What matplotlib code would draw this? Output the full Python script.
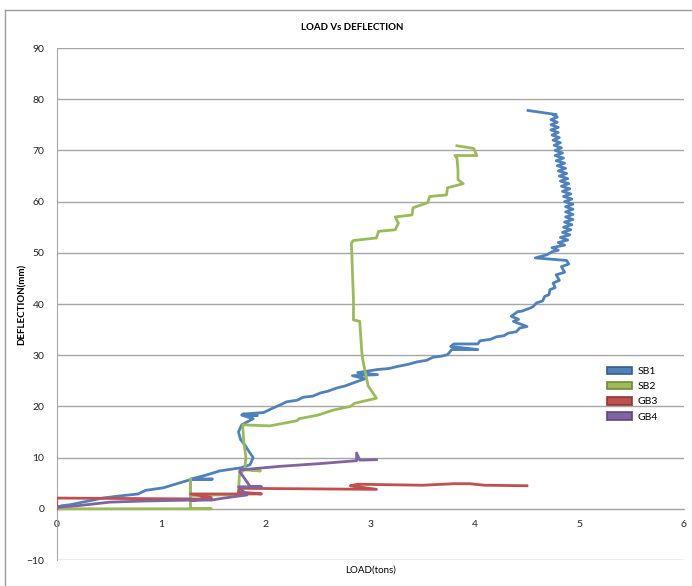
import matplotlib
matplotlib.use("Agg")

import matplotlib.pyplot as plt
from matplotlib.patches import Patch
from matplotlib.lines import Line2D

# ---------------------------------------------------------------
# data: LOAD (tons) vs DEFLECTION (mm)
# ---------------------------------------------------------------
sb1_load = [0.00, 0.05, 0.13, 0.25, 0.44, 0.60, 0.78, 0.85, 1.02, 1.15, 1.28, 1.49, 1.28,
            1.40, 1.56, 1.76, 1.85, 1.88, 1.83, 1.80, 1.76, 1.74, 1.77, 1.88, 1.77, 1.92,
            1.78, 1.98, 2.06, 2.14, 2.20, 2.30, 2.36, 2.45, 2.52, 2.60, 2.68, 2.76, 2.84,
            2.95, 2.83, 3.07, 2.88, 3.07, 3.18, 3.26, 3.36, 3.45, 3.54, 3.60, 3.68, 3.74,
            3.78, 4.03, 3.77, 3.80, 4.03, 4.05, 4.15, 4.21, 4.28, 4.32, 4.40, 4.43, 4.50,
            4.37, 4.42, 4.35, 4.41, 4.45, 4.53, 4.56, 4.59, 4.65, 4.67, 4.71, 4.72, 4.77,
            4.75, 4.81, 4.78, 4.86, 4.83, 4.90, 4.88, 4.58, 4.69, 4.74,
            4.80, 4.74, 4.86, 4.80, 4.89, 4.82, 4.91, 4.84, 4.92, 4.85, 4.93, 4.86, 4.94,
            4.87, 4.94, 4.87, 4.94, 4.87, 4.94, 4.86, 4.93, 4.85, 4.92, 4.84, 4.91, 4.83,
            4.90, 4.82, 4.89, 4.81, 4.88, 4.80, 4.87, 4.79, 4.86, 4.78, 4.85, 4.77, 4.84,
            4.77, 4.83, 4.76, 4.82, 4.75, 4.81, 4.74, 4.80, 4.73, 4.80, 4.73, 4.79, 4.73,
            4.79, 4.75, 4.78, 4.51]
sb1_defl = [0.3, 0.6, 0.8, 1.3, 2.1, 2.5, 2.9, 3.6, 4.1, 4.9, 5.7, 5.8, 5.8,
            6.4, 7.4, 8.0, 8.6, 10.0, 11.5, 12.5, 13.5, 15.0, 16.4, 17.6, 18.3, 18.2,
            18.5, 18.8, 19.6, 20.3, 20.9, 21.2, 21.8, 22.0, 22.6, 23.0, 23.6, 24.0, 24.6,
            25.4, 26.0, 26.2, 26.6, 27.2, 27.4, 27.8, 28.2, 28.7, 29.0, 29.6, 29.8, 30.1,
            31.1, 31.1, 31.7, 32.2, 32.2, 32.8, 33.1, 33.6, 33.8, 34.3, 34.6, 35.3, 35.6,
            36.6, 37.0, 37.6, 38.5, 38.6, 39.2, 39.5, 40.2, 40.6, 41.5, 41.8, 42.8, 43.2,
            44.1, 44.6, 45.7, 46.2, 47.3, 47.8, 48.5, 49.0, 49.6, 50.2,
            50.5, 51.0, 51.5, 52.0, 52.5, 53.0, 53.5, 54.0, 54.5, 55.0, 55.5, 56.0, 56.5,
            57.0, 57.5, 58.0, 58.5, 59.0, 59.5, 60.0, 60.5, 61.0, 61.5, 62.0, 62.5, 63.0,
            63.5, 64.0, 64.5, 65.0, 65.5, 66.0, 66.5, 67.0, 67.5, 68.0, 68.5, 69.0, 69.5,
            70.0, 70.5, 71.0, 71.5, 72.0, 72.5, 73.0, 73.5, 74.0, 74.5, 75.0, 75.5, 76.0,
            76.5, 77.0, 77.0, 77.8]

sb2_load = [0.00, 1.48, 1.28, 1.28, 1.28, 1.75, 1.74, 1.75, 1.80, 1.95, 1.80, 1.81, 1.79,
            1.78, 2.04, 2.30, 2.32, 2.50, 2.65, 2.81, 2.85, 3.06, 2.98, 2.93, 2.92, 2.90,
            2.84, 2.84, 2.82, 2.84, 3.06, 3.08, 3.24, 3.27, 3.24, 3.40, 3.41, 3.55, 3.57,
            3.73, 3.74, 3.89, 3.84, 3.84, 3.83, 3.81, 4.02, 3.99, 3.83]
sb2_defl = [0.0, 0.0, 0.1, 5.8, 2.6, 2.8, 3.5, 7.0, 7.6, 7.4, 7.8, 10.2, 13.0,
            16.4, 16.2, 17.2, 17.6, 18.3, 19.3, 20.0, 20.6, 21.6, 24.0, 29.0, 30.5, 36.6,
            36.9, 40.8, 51.9, 52.4, 52.9, 54.2, 54.5, 55.8, 57.0, 57.4, 58.8, 59.8, 61.0,
            61.3, 62.7, 63.5, 64.3, 66.2, 68.5, 69.0, 69.0, 70.4, 70.9]

gb3_load = [0.00, 0.00, 1.48, 1.28, 1.48, 1.28, 1.96, 1.74, 1.75, 2.40, 3.06, 2.81,
            2.88, 3.50, 3.80, 3.95, 4.10, 4.50]
gb3_defl = [0.0, 2.1, 1.9, 1.6, 2.2, 2.9, 2.9, 3.3, 4.0, 3.9, 3.8, 4.5,
            4.8, 4.6, 4.9, 4.9, 4.6, 4.5]

gb4_load = [0.00, 0.20, 0.51, 0.80, 1.28, 1.48, 1.60, 1.82, 1.74, 1.96, 1.85, 1.75,
            1.76, 2.14, 2.50, 2.87, 2.87, 2.90, 3.06]
gb4_defl = [0.3, 0.6, 1.3, 1.5, 1.7, 1.7, 2.1, 2.7, 4.3, 4.3, 4.4, 7.3,
            7.6, 8.3, 8.8, 9.4, 10.9, 9.5, 9.6]

series = ["SB1", "SB2", "GB3", "GB4"]
colors = ["#4F81BD", "#9BBB59", "#C0504D", "#8064A2"]
edges = ["#385D8A", "#71893F", "#8C3836", "#5C4776"]

x_ticks = [0, 1, 2, 3, 4, 5, 6]
y_ticks = [-10, 0, 10, 20, 30, 40, 50, 60, 70, 80, 90]

plt.rcParams["font.family"] = ["Lato", "DejaVu Sans"]

W, H = 692, 586
fig = plt.figure(figsize=(W / 100, H / 100), dpi=100)
ax = fig.add_axes([56.7 / W, (H - 560) / H, (683.7 - 56.7) / W, (560 - 48) / H])

data = [(sb1_load, sb1_defl), (sb2_load, sb2_defl), (gb3_load, gb3_defl), (gb4_load, gb4_defl)]
for (xs, ys), c, name in zip(data, colors, series):
    ax.plot(xs, ys, color=c, lw=2.0, solid_joinstyle="round", label=name, zorder=3)

ax.set_xlim(0, 6)
ax.set_ylim(-10, 90)
ax.set_xticks(x_ticks)
ax.set_yticks(y_ticks)
ax.grid(axis="y", color="#A6A6A6", lw=1.0, zorder=0)
ax.set_axisbelow(True)
for s in ["top", "right"]:
    ax.spines[s].set_visible(False)
ax.spines["bottom"].set_position(("data", 0))
ax.spines["bottom"].set_color("#A6A6A6")
ax.spines["left"].set_color("#A6A6A6")
ax.tick_params(axis="both", length=0, labelsize=7.5, colors="#222222")
ax.tick_params(axis="y", pad=9)
ax.tick_params(axis="x", pad=8)

# outer chart frame
fig.add_artist(Line2D([5 / W, 1], [(H - 10) / H] * 2, color="#9A9A9A", lw=1))
fig.add_artist(Line2D([5 / W] * 2, [0, (H - 10) / H], color="#9A9A9A", lw=1))

fig.text(352 / W, (H - 27) / H, "LOAD Vs DEFLECTION", ha="center", va="center",
         fontsize=7, fontweight="bold")
fig.text(22 / W, (H - 304) / H, "DEFLECTION(mm)", ha="center", va="center",
         rotation=90, fontsize=7, fontweight="bold")
fig.text(371 / W, (H - 570) / H, "LOAD(tons)", ha="center", va="center", fontsize=7)

handles = [Patch(facecolor=c, edgecolor=e, lw=1.2) for c, e in zip(colors, edges)]
fig.legend(handles, series, loc="upper left", bbox_to_anchor=(603 / W, (H - 363) / H),
           frameon=False, fontsize=7.5, handlelength=2.4, handleheight=0.7,
           labelspacing=0.55, handletextpad=0.5, borderaxespad=0)

fig.savefig("out.png", dpi=100)
